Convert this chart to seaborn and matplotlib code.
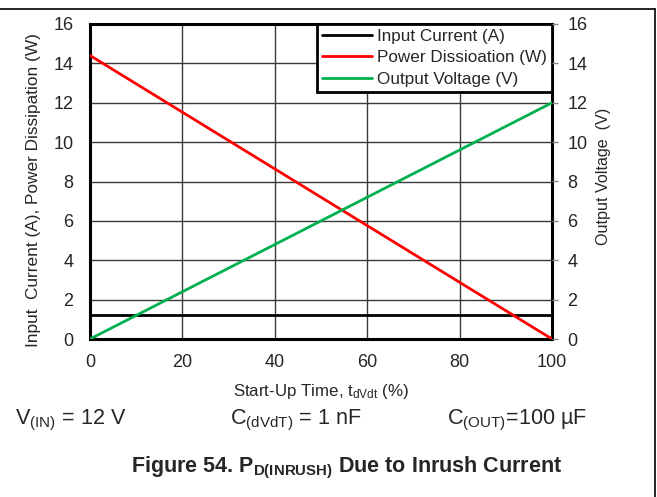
import matplotlib
matplotlib.use("Agg")
import matplotlib.pyplot as plt
from matplotlib.lines import Line2D
import seaborn as sns
import pandas as pd

# Start-up time in percent of t_dVdt
start_up_time = [0, 100]
input_current = [1.2, 1.2]      # A
power_dissipation = [14.4, 0.0]  # W
output_voltage = [0.0, 12.0]     # V

series_names = ["Input Current (A)", "Power Dissioation (W)", "Output Voltage (V)"]
series_colors = ["#000000", "#ff0000", "#00b050"]
x_ticks = [0, 20, 40, 60, 80, 100]
y_ticks = [0, 2, 4, 6, 8, 10, 12, 14, 16]

df = pd.DataFrame({
    "time": start_up_time * 3,
    "value": input_current + power_dissipation + output_voltage,
    "series": [series_names[0]] * 2 + [series_names[1]] * 2 + [series_names[2]] * 2,
})

sns.set_style("white")
plt.rcParams["font.family"] = ["Liberation Sans", "DejaVu Sans"]
plt.rcParams["mathtext.fontset"] = "custom"
plt.rcParams["mathtext.rm"] = "Liberation Sans"
plt.rcParams["mathtext.it"] = "Liberation Sans"
plt.rcParams["mathtext.bf"] = "Liberation Sans:bold"

fig = plt.figure(figsize=(6.57, 4.97), dpi=100)
ax = fig.add_axes([90 / 657, 1 - 339 / 497, (552 - 90) / 657, (339 - 24) / 497])

sns.lineplot(data=df, x="time", y="value", hue="series", hue_order=series_names,
             palette=series_colors, linewidth=2, ax=ax, zorder=3)

ax.set_xlim(0, 100)
ax.set_ylim(0, 16)
ax.set_xticks(x_ticks)
ax.set_yticks(y_ticks)
ax.grid(True, color="#3a3a3a", linewidth=1)
ax.set_axisbelow(True)
for side in ["left", "bottom", "top", "right"]:
    ax.spines[side].set_visible(True)
    ax.spines[side].set_color("black")
    ax.spines[side].set_linewidth(2.2)
ax.tick_params(axis="both", labelsize=13, length=0)
ax.tick_params(axis="y", pad=12)
ax.tick_params(axis="x", pad=11)

ax.set_xlabel("Start-Up Time, t$_{\\mathregular{dVdt}}$ (%)", fontsize=12.2, labelpad=8)
ax.set_ylabel("Input  Current (A), Power Dissipation (W)", fontsize=12.4)
ax.yaxis.set_label_coords((41 - 90) / 462, 1 - (190.5 - 24) / 315)

ax2 = ax.twinx()
ax2.set_ylim(0, 16)
ax2.set_yticks(y_ticks)
ax2.tick_params(axis="y", labelsize=13, length=4, width=1, color="#888888", pad=7)
for side in ["left", "bottom", "top", "right"]:
    ax2.spines[side].set_visible(False)
ax2.set_ylabel("Output Voltage  (V)", fontsize=11.6)
ax2.yaxis.set_label_coords((596 - 90) / 462, 1 - (176.5 - 24) / 315)

leg = ax.legend(loc="upper right", fontsize=12.3, frameon=True, fancybox=False,
                framealpha=1, handlelength=2.9, borderpad=0.3, labelspacing=0.37,
                handletextpad=0.3, borderaxespad=0)
leg.get_frame().set_edgecolor("black")
leg.get_frame().set_linewidth(2)
leg.set_zorder(5)
leg.set_title(None)

fig.text(15 / 657, 1 - 424 / 497, "V$_{\\mathregular{(IN)}}$ = 12 V", fontsize=15.6, va="baseline", ha="left")
fig.text(230 / 657, 1 - 424 / 497, "C$_{\\mathregular{(dVdT)}}$ = 1 nF", fontsize=15.6, va="baseline", ha="left")
fig.text(447 / 657, 1 - 424 / 497, "C$_{\\mathregular{(OUT)}}$=100 µF", fontsize=15.6, va="baseline", ha="left")
fig.text(347 / 657, 1 - 472 / 497, "Figure 54. P$_{\\mathbf{D(INRUSH)}}$ Due to Inrush Current",
         fontsize=15.5, fontweight="bold", va="baseline", ha="center")

# outer frame lines along the top and right edges
fig.add_artist(Line2D([0, 655 / 657], [1 - 9 / 497, 1 - 9 / 497], color="black", linewidth=1.2,
                      transform=fig.transFigure))
fig.add_artist(Line2D([655 / 657, 655 / 657], [1 - 9 / 497, 0], color="black", linewidth=1.2,
                      transform=fig.transFigure))

fig.savefig("out.png", dpi=100)
